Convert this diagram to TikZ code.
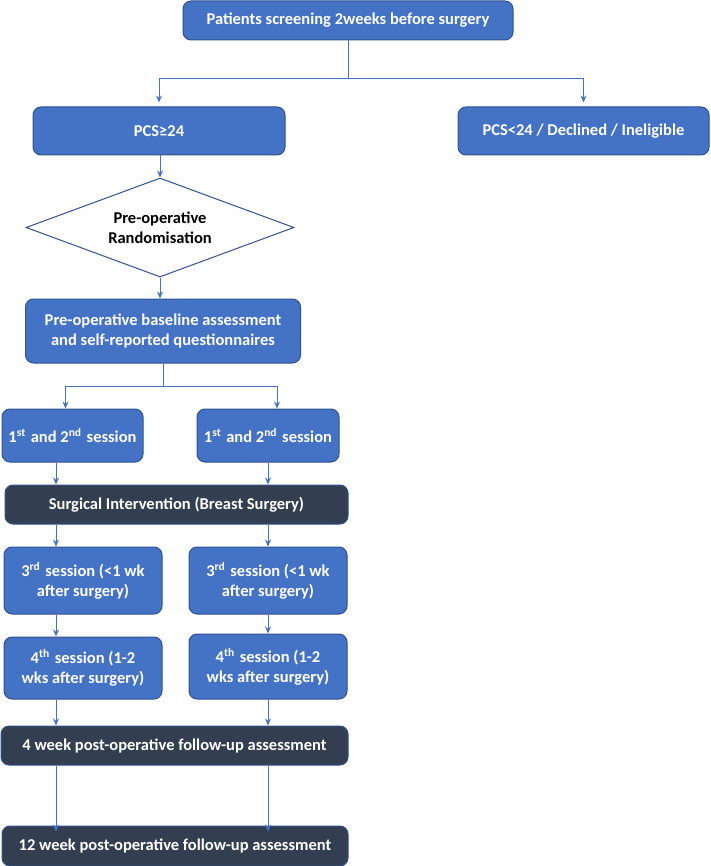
\documentclass[tikz,border=0pt]{standalone}
\usepackage{fontspec}
\setmainfont{Carlito}
\usetikzlibrary{shapes.geometric,arrows.meta}
\definecolor{boxblue}{HTML}{4472C4}
\definecolor{boxedge}{HTML}{2F528F}
\definecolor{boxdark}{HTML}{333F50}
\definecolor{linkblue}{HTML}{4472C4}
\newcommand{\ordsup}[1]{\textsuperscript{#1}\hspace{5pt}}

\begin{document}
\begin{tikzpicture}[
  x=1pt,
  y=-1pt,
  every node/.style={font=\bfseries\fontsize{16.5}{20}\selectfont},
  stage/.style={draw=boxedge, fill=boxblue, text=white, rounded corners=8pt,
    line width=1pt, align=center, inner sep=2pt},
  event/.style={stage, fill=boxdark},
  decide/.style={diamond, draw=boxedge, fill=white, text=black, line width=1pt,
    align=center, inner sep=0pt, aspect=2.7},
  link/.style={draw=linkblue, line width=1pt},
  arr/.style={link, -{Stealth[length=7pt,width=6pt]}}
]
  \useasboundingbox (0,0) rectangle (710,866);

  % boxes
  \node[stage, minimum width=330, minimum height=39] (screen) at (348,20.5)
    {Patients screening 2weeks before surgery};
  \node[stage, minimum width=252, minimum height=48] (pcshi) at (159,131) {PCS≥24};
  \node[stage, minimum width=251, minimum height=48] (pcslo) at (583.5,131)
    {PCS<24 / Declined / Ineligible};
  \node[decide, minimum width=268, minimum height=99] (rand) at (160,227.5)
    {Pre-operative\\Randomisation};
  \node[stage, minimum width=275, minimum height=64] (base) at (163,331)
    {Pre-operative baseline assessment\\and self-reported questionnaires};
  \node[stage, minimum width=141, minimum height=53] (sesA) at (72.5,435.5)
    {1\ordsup{st}and 2\ordsup{nd}session};
  \node[stage, minimum width=142, minimum height=53] (sesB) at (268,435.5)
    {1\ordsup{st}and 2\ordsup{nd}session};
  \node[event, minimum width=343, minimum height=39] (surg) at (176.5,504.5)
    {Surgical Intervention (Breast Surgery)};
  \node[stage, minimum width=158, minimum height=67] (thirdA) at (83,580.5)
    {3\ordsup{rd}session (<1 wk\\after surgery)};
  \node[stage, minimum width=158, minimum height=67] (thirdB) at (268,580.5)
    {3\ordsup{rd}session (<1 wk\\after surgery)};
  \node[stage, minimum width=158, minimum height=62] (fourthA) at (83,668)
    {4\ordsup{th}session (1-2\\wks after surgery)};
  \node[stage, minimum width=158, minimum height=65] (fourthB) at (268,666.5)
    {4\ordsup{th}session (1-2\\wks after surgery)};
  \node[event, minimum width=347, minimum height=39] (wkfour) at (174.5,745.5)
    {4 week post-operative follow-up assessment};
  \node[event, minimum width=346, minimum height=40] (wktwelve) at (175,846)
    {12 week post-operative follow-up assessment};

  % split points and columns
  \coordinate (splitA) at (348,79);
  \coordinate (splitB) at (163,386);
  \coordinate (colL) at (56,0);
  \coordinate (colR) at (268,0);

  % connectors
  \draw[link] (screen) -- (splitA);
  \draw[arr, shorten >=4pt] (splitA) -| (pcshi);
  \draw[arr, shorten >=4pt] (splitA) -| (pcslo);
  \draw[arr] (pcshi.south -| rand.north) -- (rand.north);
  \draw[arr] (rand.south) -- (rand.south |- base.north);
  \draw[link] (base.south -| splitB) -- (splitB);
  \draw[arr] (splitB) -| ([xshift=-7pt]sesA.north);
  \draw[arr] (splitB) -| ([xshift=9pt]sesB.north);
  \draw[arr] (sesA.south -| colL) -- (surg.north -| colL);
  \draw[arr] (sesB.south -| colR) -- (surg.north -| colR);
  \draw[arr] (surg.south -| colL) -- (thirdA.north -| colL);
  \draw[arr] (surg.south -| colR) -- (thirdB.north -| colR);
  \draw[arr] (thirdA.south -| colL) -- (fourthA.north -| colL);
  \draw[arr] (thirdB.south -| colR) -- (fourthB.north -| colR);
  \draw[arr] (fourthA.south -| colL) -- (wkfour.north -| colL);
  \draw[arr] (fourthB.south -| colR) -- (wkfour.north -| colR);
  \draw[arr] (wkfour.south -| colL) -- ([yshift=-6pt]wktwelve.north -| colL);
  \draw[arr] (wkfour.south -| colR) -- ([yshift=-6pt]wktwelve.north -| colR);
\end{tikzpicture}
\end{document}
